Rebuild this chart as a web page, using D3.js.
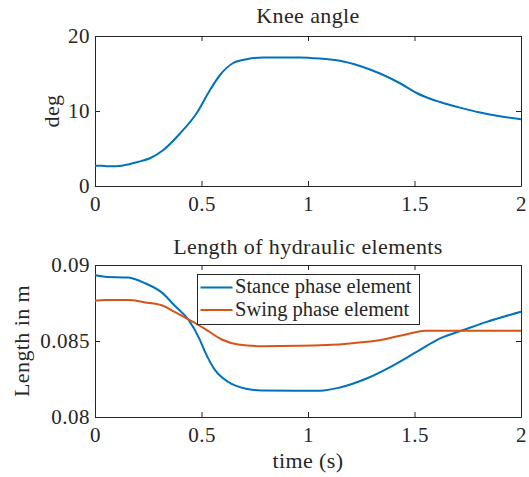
<!DOCTYPE html>
<html>
<head>
<meta charset="utf-8">
<script src="https://cdn.jsdelivr.net/npm/d3@7/dist/d3.min.js"></script>
<style>
  html, body { margin: 0; padding: 0; background: #fff; }
  svg text { font-family: "Liberation Serif", "Times New Roman", serif; fill: #262626; }
</style>
</head>
<body>
<svg id="chart" width="529" height="477"></svg>
<script>
// ---- data ----
const kneeTime  = [0, 0.03, 0.06, 0.1, 0.164, 0.2, 0.258, 0.321, 0.399, 0.477, 0.54, 0.587, 0.649, 0.712, 0.79, 0.962, 1.056, 1.15, 1.244, 1.338, 1.432, 1.51, 1.549, 1.62, 1.714, 1.808, 1.901, 2.0];
const kneeAngle = [2.7, 2.7, 2.65, 2.65, 2.93, 3.2, 3.7, 4.8, 7.0, 9.7, 12.8, 14.8, 16.4, 16.9, 17.15, 17.15, 17.0, 16.7, 16.0, 15.0, 13.7, 12.4, 11.9, 11.2, 10.45, 9.8, 9.3, 8.9];

const stanceTime = [0, 0.047, 0.156, 0.235, 0.313, 0.376, 0.438, 0.493, 0.516, 0.563, 0.626, 0.704, 0.783, 0.962, 1.056, 1.15, 1.275, 1.401, 1.51, 1.62, 1.729, 1.839, 2.0];
const stanceLen  = [0.08934, 0.08923, 0.08917, 0.0888, 0.0882, 0.0873, 0.08642, 0.08506, 0.0843, 0.0831, 0.0823, 0.08187, 0.08174, 0.08173, 0.08173, 0.08194, 0.08253, 0.0834, 0.08428, 0.08517, 0.08572, 0.08626, 0.08692];
const swingTime  = [0, 0.047, 0.156, 0.235, 0.313, 0.376, 0.438, 0.48, 0.516, 0.595, 0.673, 0.783, 0.962, 1.197, 1.354, 1.479, 1.549, 2.0];
const swingLen   = [0.08765, 0.08769, 0.08769, 0.08754, 0.08735, 0.0869, 0.08642, 0.0861, 0.0858, 0.0851, 0.08477, 0.08466, 0.08468, 0.08484, 0.0851, 0.0855, 0.08567, 0.08567];

const xTicks      = [0, 0.5, 1, 1.5, 2];
const xTickLabels = ["0", "0.5", "1", "1.5", "2"];
const kneeTicks   = [0, 10, 20];
const kneeTickLabels = ["0", "10", "20"];
const lenTicks    = [0.08, 0.085, 0.09];
const lenTickLabels = ["0.08", "0.085", "0.09"];
const seriesNames = ["Stance phase element", "Swing phase element"];
const colors = ["#0072BD", "#D95319"];

// ---- drawing ----
const svg = d3.select("#chart");
const TICK_FS = 21, LABEL_FS = 22, LEG_FS = 20.5;
const axisColor = "#262626";
const L = 95, R = 521;

function drawAxes(g, x, y, yTicks, yLabels, top, bottom) {
  const ax = g.append("g").attr("transform", `translate(0,${bottom})`)
    .call(d3.axisBottom(x).tickValues(xTicks).tickFormat((d, i) => xTickLabels[i])
      .tickSizeInner(-5).tickSizeOuter(0).tickPadding(11));
  const at = g.append("g").attr("transform", `translate(0,${top})`)
    .call(d3.axisTop(x).tickValues(xTicks).tickFormat("").tickSizeInner(-5).tickSizeOuter(0));
  const al = g.append("g").attr("transform", `translate(${L},0)`)
    .call(d3.axisLeft(y).tickValues(yTicks).tickFormat((d, i) => yLabels[i])
      .tickSizeInner(-5).tickSizeOuter(0).tickPadding(5));
  const ar = g.append("g").attr("transform", `translate(${R},0)`)
    .call(d3.axisRight(y).tickValues(yTicks).tickFormat("").tickSizeInner(-5).tickSizeOuter(0));
  [ax, at, al, ar].forEach(a => {
    a.selectAll("path").attr("stroke", axisColor).attr("stroke-width", 1);
    a.selectAll("line").attr("stroke", axisColor).attr("stroke-width", 1);
    a.selectAll("text").attr("font-size", TICK_FS).attr("font-family", "Liberation Serif")
      .attr("fill", axisColor).style("letter-spacing", "0.5px");
  });
  ax.selectAll("text").attr("dy", "0.68em");
}

function label(g, txt, x, y, rot) {
  const t = g.append("text").attr("text-anchor", "middle").attr("font-size", LABEL_FS)
    .style("letter-spacing", "0.4px").text(txt);
  if (rot) t.attr("transform", `translate(${x},${y}) rotate(-90)`);
  else t.attr("x", x).attr("y", y);
  return t;
}

// ---- top plot ----
const t1 = 36, b1 = 186;
const x1 = d3.scaleLinear().domain([0, 2]).range([L, R]);
const y1 = d3.scaleLinear().domain([0, 20]).range([b1, t1]);
const g1 = svg.append("g");
drawAxes(g1, x1, y1, kneeTicks, kneeTickLabels, t1, b1);

const line1 = d3.line().x(d => x1(d[0])).y(d => y1(d[1])).curve(d3.curveMonotoneX);
g1.append("path")
  .datum(kneeTime.map((t, i) => [t, kneeAngle[i]]))
  .attr("d", line1).attr("fill", "none").attr("stroke", colors[0]).attr("stroke-width", 2);

label(g1, "Knee angle", (L + R) / 2, 23);
label(g1, "deg", 59, (t1 + b1) / 2, true);

// ---- bottom plot ----
const t2 = 265, b2 = 417;
const x2 = d3.scaleLinear().domain([0, 2]).range([L, R]);
const y2 = d3.scaleLinear().domain([0.08, 0.09]).range([b2, t2]);
const g2 = svg.append("g");
drawAxes(g2, x2, y2, lenTicks, lenTickLabels, t2, b2);

const line2 = d3.line().x(d => x2(d[0])).y(d => y2(d[1])).curve(d3.curveMonotoneX);
[[stanceTime, stanceLen], [swingTime, swingLen]].forEach(([ts, s], k) => {
  g2.append("path")
    .datum(ts.map((t, i) => [t, s[i]]))
    .attr("d", line2).attr("fill", "none").attr("stroke", colors[k]).attr("stroke-width", 2);
});

label(g2, "Length of hydraulic elements", (L + R) / 2, 254);
label(g2, "Length in m", 29, (t2 + b2) / 2, true);
label(g2, "time (s)", (L + R) / 2, 468);

// legend
const leg = g2.append("g");
leg.append("rect").attr("x", 197.5).attr("y", 274.5).attr("width", 222).attr("height", 50)
  .attr("fill", "#fff").attr("stroke", axisColor).attr("stroke-width", 1);
seriesNames.forEach((name, k) => {
  const yy = 287.5 + k * 22.5;
  leg.append("line").attr("x1", 200.5).attr("x2", 232.5).attr("y1", yy).attr("y2", yy)
    .attr("stroke", colors[k]).attr("stroke-width", 2);
  leg.append("text").attr("x", 235).attr("y", yy + 5.5).attr("font-size", LEG_FS).text(name);
});
</script>
</body>
</html>
